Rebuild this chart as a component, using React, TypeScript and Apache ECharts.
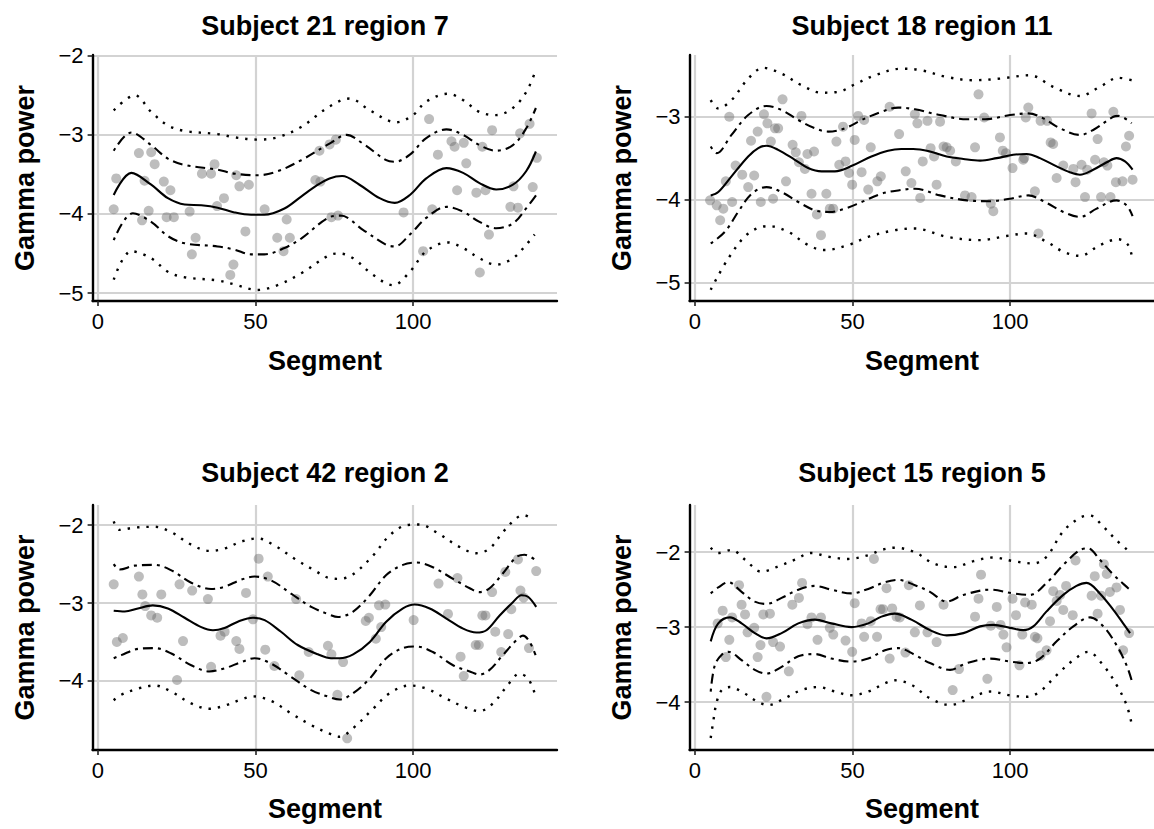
import React, { useEffect, useRef } from "react";
import * as echarts from "echarts";

const FONT = '"Liberation Sans", Arial, Helvetica, sans-serif';

const TITLES = ["Subject 21 region 7", "Subject 18 region 11", "Subject 42 region 2", "Subject 15 region 5"];
const X_LABEL = "Segment";
const Y_LABEL = "Gamma power";
const X_TICKS = [0, 50, 100];
const X_RANGE = [-1.7, 145.7];
const Y_TICKS = [
  [-5, -4, -3, -2],
  [-5, -4, -3],
  [-4, -3, -2],
  [-4, -3, -2],
];
const Y_RANGES = [
  [-5.10, -1.99],
  [-5.225, -2.255],
  [-4.89, -1.74],
  [-4.64, -1.37],
];

// ---------- Panel 1: Subject 21 region 7 ----------
const points1 = [[5.0,-3.94],[5.8,-3.55],[13.0,-3.23],[14.0,-4.08],[14.8,-3.58],[16.1,-3.96],[16.9,-3.22],[18.0,-3.37],[20.9,-3.59],[21.8,-4.04],[23.0,-3.70],[24.1,-4.04],[29.1,-3.97],[29.8,-4.51],[31.0,-4.30],[33.0,-3.49],[35.9,-3.49],[37.0,-3.37],[37.8,-3.90],[40.0,-3.80],[42.0,-4.77],[43.0,-4.64],[43.9,-3.51],[44.9,-3.65],[46.8,-4.22],[47.9,-3.63],[52.9,-3.94],[56.9,-4.30],[58.9,-4.47],[59.9,-4.07],[60.9,-4.30],[69.0,-3.57],[70.3,-3.20],[70.6,-3.59],[73.5,-3.12],[74.1,-4.04],[75.5,-3.06],[76.2,-4.02],[97.0,-3.98],[103.2,-4.47],[105.1,-2.80],[106.1,-3.94],[107.9,-3.25],[112.2,-3.08],[113.2,-3.15],[114.0,-3.70],[116.1,-3.10],[116.9,-3.36],[120.1,-3.73],[121.2,-4.74],[122.0,-3.15],[123.0,-3.70],[124.1,-4.26],[125.1,-2.94],[130.9,-3.91],[131.9,-3.65],[133.3,-3.92],[134.0,-2.98],[137.0,-2.86],[138.0,-3.66],[139.3,-3.29]];
const mean1 = [[5,-3.76],[10.6,-3.48],[16.9,-3.63],[22.2,-3.80],[27.5,-3.88],[32.8,-3.89],[38,-3.92],[43.3,-3.98],[48.6,-4.01],[52.8,-4.01],[59.2,-3.93],[64.5,-3.78],[69.8,-3.63],[73.5,-3.55],[77.5,-3.52],[83,-3.63],[89.4,-3.80],[94.2,-3.86],[99,-3.76],[104.2,-3.55],[110.6,-3.42],[115.9,-3.48],[121.1,-3.61],[126.4,-3.69],[131.7,-3.63],[135.9,-3.46],[139,-3.21]];
const ciUpper1 = [[5,-3.20],[10.6,-2.97],[16.9,-3.13],[22.2,-3.30],[27.5,-3.38],[38,-3.44],[43.3,-3.49],[50.7,-3.51],[57,-3.46],[64.5,-3.32],[73.5,-3.11],[78.9,-3.00],[84.1,-3.11],[91.5,-3.32],[94.2,-3.34],[99,-3.25],[104.2,-3.04],[110.6,-2.93],[115.9,-3.00],[121.1,-3.13],[126.4,-3.20],[131.7,-3.13],[135.9,-2.92],[139,-2.66]];
const ciLower1 = [[5,-4.33],[11.1,-3.99],[16.9,-4.10],[22.2,-4.28],[27.5,-4.37],[38,-4.41],[43.3,-4.45],[48.6,-4.51],[52.8,-4.51],[59.2,-4.43],[64.5,-4.31],[73.5,-4.04],[77,-4.02],[84.1,-4.20],[91.5,-4.39],[94.2,-4.41],[99,-4.26],[104.2,-4.05],[110.6,-3.91],[115.9,-3.97],[121.1,-4.10],[126.4,-4.18],[131.7,-4.12],[135.9,-3.93],[139.1,-3.76]];
const piUpper1 = [[5,-2.69],[11.7,-2.50],[16.9,-2.71],[22.2,-2.88],[27.5,-2.95],[38,-2.99],[43.3,-3.03],[50.7,-3.06],[57,-3.03],[64.5,-2.90],[73.5,-2.64],[79.9,-2.54],[86.3,-2.69],[94.7,-2.84],[100,-2.75],[104.2,-2.58],[111.1,-2.48],[115.9,-2.56],[121.1,-2.71],[126.4,-2.75],[131.7,-2.66],[135.9,-2.46],[139,-2.18]];
const piLower1 = [[5,-4.83],[10.6,-4.47],[16.9,-4.56],[22.2,-4.73],[27.5,-4.80],[38,-4.84],[43.3,-4.89],[50.7,-4.96],[57,-4.90],[64.5,-4.75],[73.5,-4.52],[76.7,-4.50],[81,-4.56],[87.3,-4.77],[93.7,-4.90],[99,-4.73],[104.2,-4.47],[111.1,-4.36],[115.9,-4.43],[121.1,-4.56],[126.4,-4.64],[131.7,-4.56],[135.9,-4.39],[138.6,-4.26]];

// ---------- Panel 2: Subject 18 region 11 ----------
const points2 = [[4.8,-4.01],[6.9,-4.07],[8.0,-4.25],[9.0,-4.11],[9.8,-3.78],[10.9,-3.00],[11.8,-4.03],[12.9,-3.59],[15.0,-3.70],[16.9,-3.85],[17.8,-3.29],[18.8,-3.71],[19.9,-3.18],[20.9,-4.03],[21.9,-2.97],[23.0,-3.08],[24.1,-3.30],[24.8,-3.99],[25.4,-3.14],[26.4,-3.14],[27.8,-2.79],[28.9,-3.78],[31.0,-3.34],[32.0,-3.43],[33.0,-3.55],[33.8,-2.99],[34.9,-3.63],[35.7,-3.45],[37.0,-3.93],[37.8,-3.42],[38.7,-4.18],[40.0,-4.43],[41.7,-3.93],[42.8,-4.11],[43.9,-4.11],[44.9,-3.30],[45.8,-3.58],[47.0,-3.12],[47.8,-3.54],[48.9,-3.68],[49.9,-3.82],[50.7,-3.28],[51.8,-2.99],[52.9,-3.67],[53.7,-3.04],[55.0,-3.88],[55.8,-3.37],[57.9,-3.78],[59.0,-3.72],[61.8,-2.88],[64.8,-3.21],[66.9,-3.66],[68.7,-3.80],[69.8,-2.97],[70.6,-3.08],[71.5,-3.98],[72.3,-3.54],[73.8,-3.05],[74.8,-3.38],[75.9,-3.48],[76.7,-3.82],[77.8,-3.06],[78.9,-3.36],[79.9,-3.37],[81.0,-3.41],[82.8,-3.54],[85.7,-3.95],[87.8,-3.97],[88.9,-3.37],[90.0,-2.73],[91.8,-3.01],[93.9,-4.05],[94.7,-4.14],[96.8,-3.25],[97.7,-3.41],[98.7,-3.44],[100.8,-3.62],[104.2,-3.52],[104.5,-3.50],[105.0,-3.01],[105.8,-2.89],[107.9,-3.90],[109.0,-4.41],[109.7,-3.05],[111.8,-3.05],[112.9,-3.31],[113.7,-3.33],[114.8,-3.74],[116.9,-3.59],[120.1,-3.63],[120.8,-3.79],[122.7,-3.58],[123.8,-3.97],[124.5,-3.64],[125.9,-2.96],[127.0,-3.52],[127.8,-3.27],[128.9,-3.97],[129.8,-3.55],[130.9,-3.59],[131.9,-3.97],[132.8,-2.94],[133.6,-3.79],[135.7,-3.78],[136.8,-3.36],[137.8,-3.23],[138.9,-3.76]];
const mean2 = [[5,-3.95],[7.4,-3.91],[11.6,-3.72],[16.9,-3.48],[20.1,-3.38],[22.7,-3.35],[26.4,-3.40],[31.7,-3.52],[35.9,-3.62],[40.2,-3.66],[44.4,-3.66],[50,-3.59],[56,-3.48],[61.3,-3.41],[65.5,-3.39],[69.3,-3.39],[74.6,-3.42],[79.9,-3.48],[85.2,-3.51],[90.5,-3.53],[95.8,-3.50],[101,-3.46],[105.3,-3.45],[109.5,-3.50],[114.8,-3.60],[119,-3.67],[122.2,-3.70],[126.4,-3.64],[130.7,-3.55],[133.8,-3.50],[136.5,-3.54],[138.9,-3.64]];
const ciUpper2 = [[5,-3.36],[6.9,-3.44],[11.6,-3.22],[16.9,-2.98],[22.7,-2.87],[27.5,-2.92],[32.8,-3.04],[38.1,-3.14],[42.3,-3.18],[47.6,-3.14],[52.9,-3.04],[59.2,-2.94],[64.5,-2.89],[69.8,-2.91],[77.8,-2.98],[86.3,-3.03],[92.1,-3.03],[100,-2.98],[105.8,-2.96],[110.6,-3.02],[115.9,-3.14],[122.2,-3.22],[126.4,-3.16],[132.8,-3.00],[134.4,-2.99],[138.6,-3.08]];
const ciLower2 = [[5,-4.53],[9.5,-4.39],[13.7,-4.15],[18,-3.93],[22.7,-3.85],[27.5,-3.91],[32.8,-4.03],[38.1,-4.13],[42.8,-4.15],[47.6,-4.11],[52.9,-4.03],[59.2,-3.93],[64.5,-3.89],[69.8,-3.87],[77.8,-3.95],[86.3,-4.01],[93.7,-4.02],[100,-3.99],[105.8,-3.95],[111.1,-4.03],[116.9,-4.15],[122.2,-4.21],[127.5,-4.11],[133.8,-4.01],[137,-4.07],[138.9,-4.20]];
const piUpper2 = [[5,-2.80],[7.4,-2.90],[11.6,-2.80],[16.9,-2.54],[21.7,-2.41],[27.5,-2.48],[33.8,-2.62],[40.2,-2.71],[45.5,-2.70],[50.7,-2.61],[57.1,-2.50],[65.5,-2.42],[71.9,-2.44],[79.9,-2.52],[88.4,-2.56],[96.8,-2.54],[106.3,-2.50],[113.7,-2.64],[122.2,-2.75],[128.5,-2.64],[134.4,-2.53],[138.6,-2.56]];
const piLower2 = [[5,-5.09],[10.6,-4.71],[16.9,-4.41],[23.3,-4.32],[29.6,-4.39],[35.9,-4.55],[41.2,-4.61],[48.6,-4.55],[55,-4.45],[63.4,-4.37],[69.8,-4.35],[79.9,-4.45],[90.5,-4.49],[98.9,-4.44],[105.3,-4.41],[111.6,-4.51],[116.9,-4.63],[122.2,-4.68],[128.5,-4.55],[134.4,-4.48],[137.5,-4.55],[138.9,-4.73]];

// ---------- Panel 3: Subject 42 region 2 ----------
const points3 = [[5.0,-2.76],[6.0,-3.50],[7.9,-3.45],[13.0,-2.66],[14.1,-2.89],[15.0,-3.04],[16.9,-3.16],[18.8,-3.19],[20.1,-2.89],[25.1,-3.99],[25.9,-2.76],[27.0,-3.49],[29.9,-2.84],[34.9,-2.95],[35.9,-3.82],[38.9,-3.42],[40.2,-3.37],[43.9,-3.49],[44.9,-3.59],[47.0,-2.87],[49.2,-3.21],[51.0,-2.43],[53.1,-3.60],[53.9,-2.66],[56.0,-3.81],[62.9,-2.95],[63.9,-3.93],[66.9,-3.63],[73.0,-3.55],[74.1,-3.66],[76.0,-4.18],[77.8,-3.76],[79.1,-4.74],[85.0,-3.23],[86.0,-3.19],[88.2,-3.46],[89.2,-3.03],[89.9,-3.31],[91.2,-3.02],[100.2,-3.22],[108.1,-2.75],[111.1,-3.14],[114.1,-2.68],[115.1,-3.69],[116.1,-3.94],[119.9,-3.54],[120.9,-3.54],[122.0,-3.16],[123.0,-3.16],[125.1,-2.86],[126.1,-3.37],[128.0,-3.63],[129.3,-2.60],[130.2,-3.40],[131.2,-3.08],[133.3,-2.44],[134.1,-2.84],[135.1,-2.93],[136.8,-3.58],[139.1,-2.59]];
const mean3 = [[5,-3.10],[8.5,-3.11],[12.7,-3.07],[17.4,-3.03],[22.2,-3.07],[27.5,-3.19],[32.8,-3.31],[36.5,-3.35],[40.2,-3.32],[44.4,-3.24],[49.2,-3.19],[52.9,-3.22],[58.1,-3.37],[63.4,-3.54],[69.8,-3.66],[74,-3.71],[76.7,-3.71],[81,-3.66],[86.3,-3.50],[91.5,-3.24],[96.8,-3.07],[100.5,-3.02],[105.3,-3.07],[110.6,-3.20],[115.9,-3.33],[120.1,-3.38],[123.3,-3.35],[127.5,-3.16],[131.7,-2.99],[134.4,-2.90],[136.5,-2.92],[139.1,-3.05]];
const ciUpper3 = [[5,-2.50],[6.9,-2.57],[11.6,-2.52],[18,-2.51],[23.3,-2.58],[29.6,-2.74],[35.9,-2.82],[40.2,-2.79],[45.5,-2.70],[49.7,-2.66],[55,-2.71],[61.3,-2.88],[67.7,-3.05],[73.5,-3.15],[76.2,-3.18],[81,-3.11],[86.3,-2.90],[91.5,-2.64],[96.8,-2.51],[101.1,-2.48],[106.3,-2.54],[112.7,-2.69],[118,-2.81],[121.1,-2.86],[124.3,-2.81],[128.5,-2.62],[132.8,-2.41],[135.4,-2.38],[138.9,-2.45]];
const ciLower3 = [[5,-3.71],[7.4,-3.67],[12.7,-3.59],[18,-3.58],[23.3,-3.65],[29.6,-3.80],[35.4,-3.88],[40.2,-3.84],[45.5,-3.76],[49.7,-3.71],[55,-3.78],[61.3,-3.95],[67.7,-4.12],[73.5,-4.21],[76.7,-4.24],[81,-4.16],[86.3,-3.97],[91.5,-3.71],[96.8,-3.58],[101.1,-3.56],[106.3,-3.63],[112.7,-3.80],[118,-3.88],[121.1,-3.92],[124.3,-3.86],[128.5,-3.67],[132.8,-3.48],[134.9,-3.42],[137,-3.50],[138.9,-3.67]];
const piUpper3 = [[5,-1.95],[6.9,-2.06],[11.6,-2.03],[18,-2.02],[23.3,-2.09],[29.6,-2.25],[35.4,-2.33],[40.2,-2.30],[45.5,-2.21],[50.7,-2.17],[56,-2.26],[62.4,-2.43],[68.7,-2.58],[73.5,-2.68],[76.7,-2.69],[81,-2.63],[87.3,-2.39],[92.6,-2.13],[97.9,-2.00],[102.1,-1.99],[107.4,-2.09],[114.8,-2.28],[120.1,-2.36],[124.3,-2.30],[128.5,-2.09],[132.8,-1.91],[135.1,-1.87],[137.5,-1.91]];
const piLower3 = [[5,-4.25],[7.4,-4.18],[12.7,-4.10],[18,-4.06],[23.3,-4.14],[29.6,-4.29],[35.4,-4.36],[40.2,-4.32],[45.5,-4.24],[49.2,-4.20],[55,-4.26],[61.3,-4.42],[67.7,-4.57],[73.5,-4.68],[76.7,-4.72],[81,-4.61],[87.3,-4.36],[92.6,-4.16],[98.9,-4.06],[104.2,-4.10],[110.6,-4.23],[115.9,-4.33],[121.1,-4.39],[125.4,-4.29],[129.6,-4.08],[133.8,-3.91],[136.5,-3.97],[138.6,-4.16]];

// ---------- Panel 4: Subject 15 region 5 ----------
const points4 = [[7.2,-2.95],[8.8,-2.78],[9.8,-3.40],[10.9,-3.17],[11.8,-2.87],[14.0,-2.44],[14.8,-2.70],[15.9,-2.83],[16.7,-3.07],[18.8,-3.01],[19.9,-3.40],[20.8,-3.24],[21.7,-2.83],[22.7,-3.93],[23.8,-2.82],[24.8,-3.20],[27.0,-3.26],[29.8,-3.59],[30.9,-2.70],[33.0,-2.61],[34.0,-2.41],[35.7,-2.96],[37.0,-2.87],[38.9,-3.17],[40.0,-2.87],[42.8,-3.01],[43.9,-3.10],[47.8,-3.18],[49.9,-3.33],[50.7,-2.68],[52.9,-2.95],[53.7,-3.13],[55.8,-2.92],[56.8,-2.09],[57.8,-3.13],[58.9,-2.76],[59.7,-2.76],[60.8,-2.48],[61.8,-3.42],[62.6,-2.75],[64.0,-2.86],[65.0,-2.87],[66.8,-3.34],[67.9,-2.44],[69.8,-3.07],[71.4,-2.71],[73.8,-3.07],[76.7,-3.20],[78.9,-2.70],[81.8,-3.84],[83.8,-3.56],[88.9,-2.86],[90.0,-2.62],[90.8,-2.30],[92.8,-3.69],[93.9,-2.98],[95.8,-2.73],[97.0,-2.97],[97.9,-3.10],[98.9,-3.27],[100.8,-2.62],[101.9,-2.84],[103.0,-3.51],[103.9,-3.10],[104.8,-2.67],[106.9,-2.70],[107.9,-3.13],[108.7,-3.15],[109.7,-3.38],[111.6,-3.31],[112.7,-2.92],[113.7,-2.52],[114.8,-2.65],[115.9,-2.57],[116.9,-2.77],[117.8,-2.45],[119.9,-2.84],[120.8,-2.11],[125.9,-2.58],[126.9,-2.32],[127.8,-2.82],[128.9,-2.58],[129.8,-2.16],[130.7,-2.29],[131.7,-2.53],[133.8,-2.47],[134.9,-2.77],[135.9,-3.31],[137.8,-3.08]];
const mean4 = [[5,-3.19],[7.4,-2.95],[11.1,-2.87],[14.8,-2.95],[19,-3.08],[22.7,-3.15],[27.5,-3.08],[32.8,-2.95],[38.1,-2.90],[43.3,-2.95],[49.7,-3.00],[55,-2.95],[59.2,-2.86],[63.4,-2.82],[68.7,-2.90],[74.6,-3.04],[79.9,-3.11],[85.2,-3.08],[90.5,-2.99],[94.7,-2.97],[100,-3.01],[104.2,-3.04],[107.4,-2.99],[111.6,-2.79],[116.9,-2.57],[121.1,-2.45],[124.3,-2.41],[128.5,-2.55],[132.8,-2.77],[135.9,-2.95],[138.1,-3.08]];
const ciUpper4 = [[5,-2.55],[7.4,-2.47],[10.6,-2.40],[14.8,-2.53],[19,-2.66],[22.7,-2.69],[27.5,-2.61],[32.8,-2.50],[38.1,-2.45],[43.3,-2.50],[49.7,-2.55],[55,-2.49],[60.3,-2.40],[64.5,-2.37],[69.8,-2.44],[74.6,-2.53],[79.9,-2.66],[85.2,-2.57],[93.7,-2.50],[101.1,-2.55],[106.3,-2.57],[111.6,-2.41],[116.9,-2.17],[122.2,-1.97],[124.8,-1.95],[128.5,-2.10],[132.8,-2.30],[137.5,-2.48],[138.1,-2.50]];
const ciLower4 = [[5,-3.86],[6.3,-3.51],[8.5,-3.37],[10.6,-3.33],[14.8,-3.44],[19,-3.57],[22.7,-3.62],[27.5,-3.53],[32.8,-3.39],[38.1,-3.36],[43.3,-3.42],[49.7,-3.46],[55,-3.42],[60.3,-3.31],[64.5,-3.28],[69.8,-3.37],[74.6,-3.48],[81,-3.57],[86.3,-3.48],[93.7,-3.42],[100,-3.46],[105.3,-3.48],[109.5,-3.42],[114.8,-3.19],[120.1,-2.99],[125.4,-2.87],[129.6,-2.99],[133.8,-3.24],[137,-3.51],[138.6,-3.71]];
const piUpper4 = [[5,-1.94],[7.4,-2.01],[11.6,-1.97],[15.9,-2.10],[21.1,-2.26],[26.4,-2.19],[31.7,-2.10],[37,-2.01],[42.3,-2.06],[48.6,-2.09],[55,-2.04],[59.2,-1.97],[63.4,-1.94],[69.8,-2.00],[75.7,-2.15],[82,-2.20],[88.4,-2.12],[94.7,-2.07],[101.1,-2.12],[107.4,-2.15],[111.6,-2.06],[116.9,-1.72],[122.2,-1.54],[125.4,-1.51],[129.6,-1.66],[133.8,-1.84],[137.5,-1.98]];
const piLower4 = [[5,-4.48],[5.8,-4.26],[6.9,-4.00],[8.5,-3.84],[11.1,-3.80],[14.8,-3.86],[20.1,-4.00],[23.3,-4.04],[28.5,-3.95],[33.8,-3.84],[39.1,-3.80],[44.4,-3.86],[49.7,-3.91],[55,-3.86],[60.3,-3.75],[63.4,-3.71],[68.7,-3.77],[74.6,-3.95],[81,-4.04],[87.3,-3.95],[93.7,-3.86],[100,-3.91],[105.3,-3.93],[109.5,-3.86],[114.8,-3.64],[120.1,-3.44],[124.8,-3.33],[129.6,-3.51],[133.8,-3.77],[137,-4.04],[138.6,-4.29]];

const PANEL_DATA = [
  { points: points1, mean: mean1, ciU: ciUpper1, ciL: ciLower1, piU: piUpper1, piL: piLower1 },
  { points: points2, mean: mean2, ciU: ciUpper2, ciL: ciLower2, piU: piUpper2, piL: piLower2 },
  { points: points3, mean: mean3, ciU: ciUpper3, ciL: ciLower3, piU: piUpper3, piL: piLower3 },
  { points: points4, mean: mean4, ciU: ciUpper4, ciL: ciLower4, piU: piUpper4, piL: piLower4 },
];

// Layout (pixels)
const PANEL_W = 464.4;
const LAYOUT = [
  { left: 92.6, top: 55, height: 246, cx: 325, titleY: 25.6, xLabelY: 361, yLabelX: 25 },
  { left: 689.6, top: 55, height: 246, cx: 922, titleY: 25.6, xLabelY: 361, yLabelX: 622 },
  { left: 92.6, top: 505, height: 245, cx: 325, titleY: 472.6, xLabelY: 809, yLabelX: 25 },
  { left: 689.6, top: 505, height: 245, cx: 922, titleY: 472.6, xLabelY: 809, yLabelX: 622 },
];

const minus = (v: number) => (v < 0 ? "\u2212" + Math.abs(v) : String(v));

const DASH_DOT = [3, 5, 10, 5];
const DOTTED = [2.4, 7.0];

function buildOption() {
  const grid = LAYOUT.map((l) => ({
    left: l.left, top: l.top, width: PANEL_W, height: l.height,
    containLabel: false, outerBoundsMode: "none",
  }));
  const axisCommon = (ticks: number[]) => ({
    axisLine: { show: true, onZero: false, lineStyle: { color: "#000", width: 2.4 } },
    axisTick: { show: true, length: 5, customValues: ticks, lineStyle: { color: "#222", width: 1.6 } },
    axisLabel: { customValues: ticks, fontSize: 22, color: "#000", margin: 9, fontFamily: FONT, formatter: minus },
    splitLine: { show: true, lineStyle: { color: "#d3d3d3", width: 2.2 } },
  });
  const xAxis = LAYOUT.map((_, i) => ({
    type: "value", gridIndex: i, min: X_RANGE[0], max: X_RANGE[1], position: "bottom",
    ...axisCommon(X_TICKS),
  }));
  const yAxis = LAYOUT.map((_, i) => ({
    type: "value", gridIndex: i, min: Y_RANGES[i][0], max: Y_RANGES[i][1], position: "left",
    ...axisCommon(Y_TICKS[i]),
  }));
  const series: any[] = [];
  PANEL_DATA.forEach((p, i) => {
    series.push({
      type: "scatter", xAxisIndex: i, yAxisIndex: i, data: p.points, symbolSize: 10,
      itemStyle: { color: "rgba(105,105,105,0.55)" }, z: 2, silent: true,
    });
    const line = (data: number[][], type: any, width: number) => ({
      type: "line", xAxisIndex: i, yAxisIndex: i, data, smooth: 0.35, symbol: "none",
      lineStyle: { color: "#000", width, type }, z: 3, silent: true,
    });
    series.push(line(p.piU, DOTTED, 2.4));
    series.push(line(p.piL, DOTTED, 2.4));
    series.push(line(p.ciU, DASH_DOT, 2.1));
    series.push(line(p.ciL, DASH_DOT, 2.1));
    series.push(line(p.mean, "solid", 2.1));
  });
  const graphic: any[] = [];
  LAYOUT.forEach((l, i) => {
    const textStyle = (text: string) => ({
      text, fill: "#000", fontSize: 27, fontWeight: "bold", fontFamily: FONT,
      align: "center", verticalAlign: "middle", textAlign: "center", textVerticalAlign: "middle",
    });
    graphic.push({ type: "text", x: l.cx, y: l.titleY, style: textStyle(TITLES[i]), silent: true });
    graphic.push({ type: "text", x: l.cx, y: l.xLabelY, style: textStyle(X_LABEL), silent: true });
    graphic.push({
      type: "text", x: l.yLabelX, y: l.top + l.height / 2, rotation: Math.PI / 2,
      style: textStyle(Y_LABEL), silent: true,
    });
  });
  return {
    animation: false,
    backgroundColor: "#fff",
    textStyle: { fontFamily: FONT },
    grid, xAxis, yAxis, series, graphic,
  };
}

export default function App() {
  const ref = useRef<HTMLDivElement>(null);
  useEffect(() => {
    if (!ref.current) return;
    const chart = echarts.init(ref.current, null, { renderer: "svg" });
    chart.setOption(buildOption() as any);
    return () => chart.dispose();
  }, []);
  return (
    <div
      ref={ref}
      style={{ position: "fixed", left: 0, top: 0, width: 1154, height: 829, background: "#fff" }}
    />
  );
}
